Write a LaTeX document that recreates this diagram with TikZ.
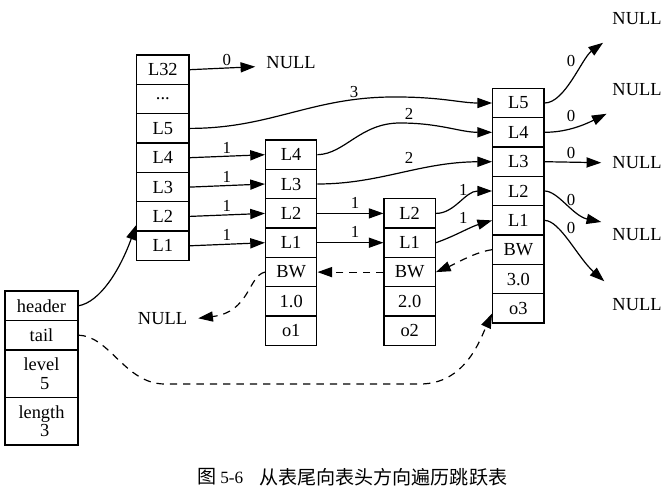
\documentclass[tikz,border=0pt]{standalone}
\usepackage{fontspec}
\setmainfont{Liberation Serif}
\newfontfamily\cjk{Noto Sans CJK SC}
\usetikzlibrary{arrows.meta}
\newcommand\dfont{\fontsize{13.8}{13.7}\selectfont}
\newcommand\lfont{\fontsize{12.6}{13}\selectfont}
\begin{document}
\begin{tikzpicture}[x=0.75pt, y=-0.75pt,
  cell/.style={draw, line width=0.9pt, inner sep=0pt, minimum height=22.01pt, font=\dfont},
  hcol/.style={cell, minimum width=39.2pt},
  ncol/.style={cell, minimum width=38.5pt},
  lcol/.style={cell, minimum width=54.75pt, align=center},
  nul/.style={inner sep=0pt, minimum width=53.25pt, minimum height=35.25pt, font=\dfont},
  lbl/.style={inner sep=0pt, font=\lfont},
  link/.style={line width=0.9pt, -{Triangle[length=11pt,width=7.6pt]}},
  back/.style={link, dash pattern=on 5.5pt off 4.5pt},
]
\useasboundingbox (0,0) rectangle (667,497);
\fill[white] (0,0) rectangle (667,497);

% left list structure
\node[lcol, minimum height=22.1pt] (header) at (41.5,305.75) {header};
\node[lcol, minimum height=22.1pt] (tail) at (41.5,335.25) {tail};
\node[lcol, minimum height=35.6pt] (level) at (41.5,373.75) {level\\\hspace*{5pt}5};
\node[lcol, minimum height=35.6pt] (length) at (41.5,421.25) {length\\\hspace*{5pt}3};

% header column
\node[hcol] (h32) at (162.85,69.7) {L32};
\node[hcol] (hdots) at (162.85,99.0) {...};
\node[hcol] (h5) at (162.85,128.4) {L5};
\node[hcol] (h4) at (162.85,157.7) {L4};
\node[hcol] (h3) at (162.85,187.1) {L3};
\node[hcol] (h2) at (162.85,216.4) {L2};
\node[hcol] (h1) at (162.85,245.8) {L1};

% node 1
\node[ncol] (aL4) at (291.2,154.7) {L4};
\node[ncol] (aL3) at (291.2,184.0) {L3};
\node[ncol] (aL2) at (291.2,213.4) {L2};
\node[ncol] (aL1) at (291.2,242.7) {L1};
\node[ncol] (aBW) at (291.2,272.1) {BW};
\node[ncol] (aSc) at (291.2,301.4) {1.0};
\node[ncol] (aObj) at (291.2,330.8) {o1};

% node 2
\node[ncol] (bL2) at (409.7,213.4) {L2};
\node[ncol] (bL1) at (409.7,242.7) {L1};
\node[ncol] (bBW) at (409.7,272.1) {BW};
\node[ncol] (bSc) at (409.7,301.4) {2.0};
\node[ncol] (bObj) at (409.7,330.8) {o2};

% node 3
\node[ncol] (cL5) at (518.35,103.0) {L5};
\node[ncol] (cL4) at (518.35,132.3) {L4};
\node[ncol] (cL3) at (518.35,161.7) {L3};
\node[ncol] (cL2) at (518.35,191.0) {L2};
\node[ncol] (cL1) at (518.35,220.4) {L1};
\node[ncol] (cBW) at (518.35,249.7) {BW};
\node[ncol] (cSc) at (518.35,279.1) {3.0};
\node[ncol] (cObj) at (518.35,308.4) {o3};

% NULL nodes
\node[nul] (null0) at (291,62.3) {NULL};
\node[nul] (nullL) at (162.5,318.3) {NULL};
\node[nul] (nr1) at (637,19) {NULL};
\node[nul] (nr2) at (637,90) {NULL};
\node[nul] (nr3) at (637,162.7) {NULL};
\node[nul] (nr4) at (637,235) {NULL};
\node[nul] (nr5) at (637,305) {NULL};

% forward links
\draw[link] (h32.east) -- (null0.187) node[lbl] (t0) at (226.7,59.5) {0};
\draw[link] (h5.east) .. controls (270,128.4) and (310,98) .. (390,97)
  .. controls (440,96.5) and (460,103) .. (cL5.west) node[lbl] (t1) at (354,91.7) {3};
\draw[link] (h4.east) -- (aL4.west) node[lbl] (t2) at (226.7,147.5) {1};
\draw[link] (h3.east) -- (aL3.west) node[lbl] (t3) at (226.7,177) {1};
\draw[link] (h2.east) -- (aL2.west) node[lbl] (t4) at (226.7,205.5) {1};
\draw[link] (h1.east) -- (aL1.west) node[lbl] (t5) at (226.7,234.5) {1};

\draw[link] (aL2.east) -- (bL2.west) node[lbl] (t6) at (355,203) {1};
\draw[link] (aL1.east) -- (bL1.west) node[lbl] (t7) at (355,232) {1};

\draw[link] (aL4.east) .. controls (345,154) and (360,123) .. (400,123)
  .. controls (440,123) and (460,132.3) .. (cL4.west) node[lbl] (t8) at (409,114) {2};
\draw[link] (aL3.east) .. controls (380,184) and (420,162) .. (cL3.west) node[lbl] (t9) at (409,158) {2};

\draw[link] (bL2.east) .. controls (455,213.4) and (465,191) .. (cL2.west) node[lbl] (t10) at (463.3,189.5) {1};
\draw[link] (bL1.east) .. controls (455,236) and (470,227) .. (cL1.west) node[lbl] (t11) at (463.3,218.3) {1};

% to right NULLs
\draw[link] (cL5.east) .. controls (565,103) and (582,58) .. (nr1.215) node[lbl] (t12) at (571,61) {0};
\draw[link] (cL4.east) .. controls (565,132.3) and (582,126) .. (nr2.218) node[lbl] (t13) at (571,116) {0};
\draw[link] (cL3.east) -- (nr3.west) node[lbl] (t14) at (571,152.5) {0};
\draw[link] (cL2.east) .. controls (558,191) and (573,216) .. (nr4.160) node[lbl] (t15) at (571,200) {0};
\draw[link] (cL1.east) .. controls (560,220.4) and (578,258) .. (nr5.144) node[lbl] (t16) at (571,228.3) {0};

% header pointer
\draw[link] (header.east) .. controls (100,302) and (120,270) .. (h2.198);

% backward links (dashed)
\draw[back] (bBW.west) -- (aBW.east);
\draw[back] (cBW.west) .. controls (475,252) and (455,264) .. (bBW.east);
\draw[back] (aBW.west) .. controls (248,276) and (250,312) .. (nullL.east);

% tail pointer
\draw[back] (tail.east) .. controls (110,336) and (125,384) .. (165,384) -- (420,384)
  .. controls (465,384) and (480,340) .. (cObj.191);

% caption
\node[anchor=west, inner sep=0pt, font=\cjk\fontsize{14.3}{16}\selectfont] (capa) at (197,477) {图};
\node[anchor=west, inner sep=0pt, font=\fontsize{12.9}{14}\selectfont] (capb) at (220,477.5) {5-6};
\node[anchor=west, inner sep=0pt, font=\cjk\fontsize{14.3}{16}\selectfont] (capc) at (259,477) {从表尾向表头方向遍历跳跃表};
\end{tikzpicture}
\end{document}
